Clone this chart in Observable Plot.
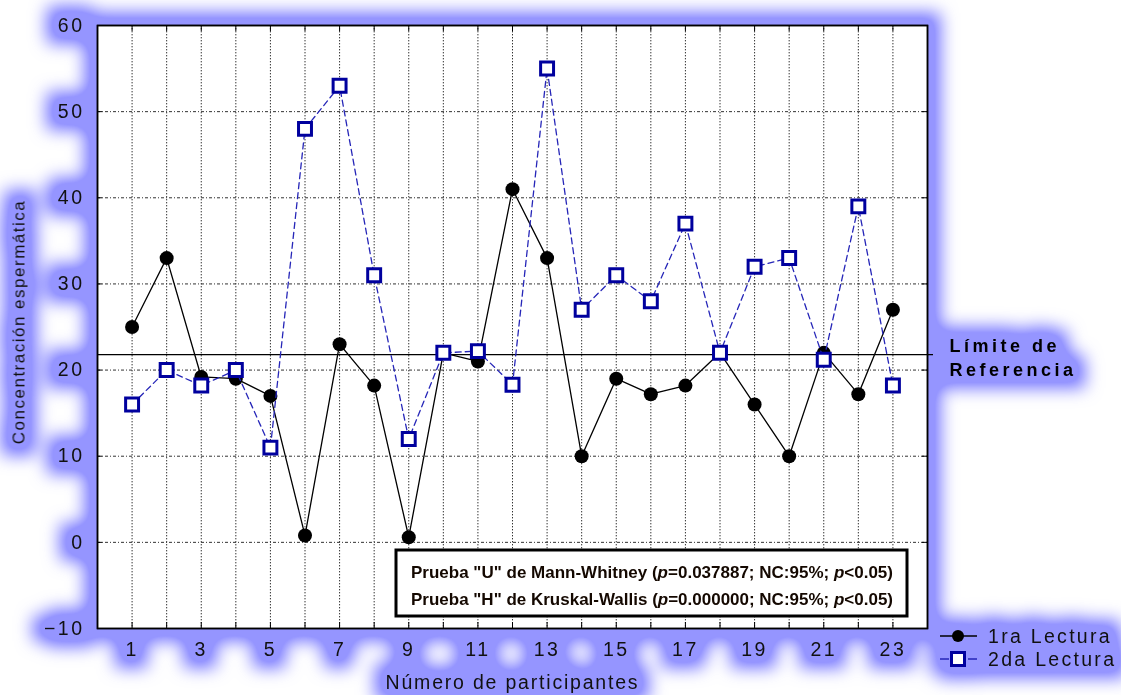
<!DOCTYPE html>
<html><head><meta charset="utf-8">
<script src="https://cdn.jsdelivr.net/npm/d3@7"></script>
<script src="https://cdn.jsdelivr.net/npm/@observablehq/plot@0.6"></script>
<style>
body{margin:0;background:#fff;}
#chart svg{display:block;overflow:visible;}
</style></head><body><div id="chart"></div>
<script>
// ---- data ----
const participantes = [1,2,3,4,5,6,7,8,9,10,11,12,13,14,15,16,17,18,19,20,21,22,23];
const lectura1 = [25, 33, 19.2, 19, 17, 0.8, 23, 18.2, 0.6, 22, 21, 41, 33, 10, 19, 17.2, 18.2, 22, 16, 10, 22, 17.2, 27];
const lectura2 = [16, 20, 18.2, 20, 11, 48, 53, 31, 12, 22, 22.2, 18.3, 55, 27, 31, 28, 37, 22, 32, 33, 21.2, 39, 18.2];
const xTicks = [1,3,5,7,9,11,13,15,17,19,21,23];
const yTicks = [-10,0,10,20,30,40,50,60];
const limiteReferencia = 21.8;
const seriesNames = ["1ra Lectura", "2da Lectura"];
const xTitle = "Número de participantes";
const yTitle = "Concentración espermática";
const refLabel = "Límite de\nReferencia";
const pruebas = [
  {nombre: 'Prueba "U" de Mann-Whitney', p: "0.037887"},
  {nombre: 'Prueba "H" de Kruskal-Wallis', p: "0.000000"}
];

const d1 = participantes.map((p, i) => ({p, v: lectura1[i]}));
const d2 = participantes.map((p, i) => ({p, v: lectura2[i]}));

const FONT = "'Liberation Sans', Arial, Helvetica, sans-serif";
const INK = "#111";
const NAVY = "#00009e";
const DASHBLUE = "#2626b8";
const GLOW = "#9595ff";

const plot = Plot.plot({
  width: 1121, height: 695,
  marginLeft: 97, marginRight: 194, marginTop: 25, marginBottom: 67,
  style: {fontFamily: FONT, color: INK, background: "transparent", overflow: "visible"},
  x: {domain: [0, 24], axis: null},
  y: {domain: [-10, 60], axis: null},
  marks: [
    Plot.frame({fill: "white", stroke: "black", strokeWidth: 1.5, ariaLabel: "glow-frame"}),
    // grid
    Plot.ruleX(participantes, {x: d => d, stroke: "#333", strokeWidth: 1, strokeDasharray: "1.4,1.6"}),
    Plot.ruleY(yTicks.slice(1, -1), {y: d => d, stroke: "#333", strokeWidth: 1, strokeDasharray: "3,2,1,2"}),
    // inward ticks
    Plot.ruleX(participantes, {x: d => d, stroke: "#000", insetBottom: 597}),
    Plot.ruleX(participantes, {x: d => d, stroke: "#000", insetTop: 597}),
    Plot.ruleY(yTicks, {y: d => d, stroke: "#000", insetRight: 825}),
    Plot.ruleY(yTicks, {y: d => d, stroke: "#000", insetLeft: 825}),
    // reference line
    Plot.ruleY([limiteReferencia], {stroke: "#000", strokeWidth: 1.3, insetRight: -6}),
    // series 1
    Plot.line(d1, {x: "p", y: "v", stroke: "#000", strokeWidth: 1.3}),
    Plot.dot(d1, {x: "p", y: "v", r: 7, fill: "#000", stroke: "none"}),
    // series 2
    Plot.line(d2, {x: "p", y: "v", stroke: DASHBLUE, strokeWidth: 1.3, strokeDasharray: "6,4"}),
    Plot.dot(d2, {x: "p", y: "v", symbol: "square", r: 7.3, fill: "white", stroke: NAVY, strokeWidth: 3}),
    Plot.frame({stroke: "black", strokeWidth: 1.5}),
    // axes
    Plot.axisX({ticks: xTicks, anchor: "bottom", tickSize: 0, tickPadding: 14, fontSize: 19.5, label: null}),
    Plot.axisY({ticks: yTicks, anchor: "left", tickSize: 0, tickPadding: 13, fontSize: 19.5, label: null}),
    // titles
    Plot.text([xTitle], {text: d => d, frameAnchor: "bottom", textAnchor: "middle", dy: 54, fontSize: 19.5, lineAnchor: "middle", fill: INK}),
    Plot.text([yTitle], {text: d => d, frameAnchor: "left", textAnchor: "middle", dx: -78, dy: -5, rotate: -90, fontSize: 17, lineAnchor: "middle", fill: INK}),
    // reference label
    Plot.text([limiteReferencia], {y: d => d, text: () => refLabel, frameAnchor: "right", dx: 22, dy: 2, textAnchor: "start", lineAnchor: "middle", lineHeight: 1.29, fontSize: 18, fontWeight: "bold", fill: "#000"})
  ]
});

document.getElementById("chart").appendChild(plot);
const svg = d3.select(plot);

const xAxisG = svg.selectAll('g[aria-label="x-axis tick label"]');
const yAxisG = svg.selectAll('g[aria-label="y-axis tick label"]');
const textGs = svg.selectAll('g[aria-label="text"]').nodes();
const [xTitleG, yTitleG, refG] = textGs;

// font tweaks
xAxisG.style("font-size", "19.5px").style("letter-spacing", "2.5px");
yAxisG.style("font-size", "19.5px").style("letter-spacing", "2.5px");
d3.select(xTitleG).style("letter-spacing", "1.8px");
d3.select(yTitleG).style("letter-spacing", "1.5px");
d3.select(refG).style("letter-spacing", "3.5px");

// ---- annotation box with statistical tests ----
const box = svg.append("g").attr("aria-label", "tests").attr("text-anchor", "start");
box.append("rect").attr("x", 396).attr("y", 550).attr("width", 511).attr("height", 66)
  .attr("fill", "white").attr("stroke", "#000").attr("stroke-width", 3);
pruebas.forEach((t, i) => {
  const tx = box.append("text").attr("x", 411).attr("y", 578 + i * 26.5)
    .attr("font-family", FONT).attr("font-size", 16.5).attr("font-weight", "bold").attr("fill", "#140800")
    .attr("text-anchor", "start")
    .attr("textLength", 482).attr("lengthAdjust", "spacingAndGlyphs");
  tx.append("tspan").text(t.nombre + " (");
  tx.append("tspan").attr("font-style", "italic").text("p");
  tx.append("tspan").text("=" + t.p + "; NC:95%; ");
  tx.append("tspan").attr("font-style", "italic").text("p");
  tx.append("tspan").text("<0.05)");
});

// ---- legend ----
const lg = svg.append("g").attr("aria-label", "legend").attr("text-anchor", "start");
const ly = [636, 659];
lg.append("line").attr("x1", 940).attr("x2", 977).attr("y1", ly[0]).attr("y2", ly[0]).attr("stroke", "#000").attr("stroke-width", 1.5);
lg.append("circle").attr("cx", 958).attr("cy", ly[0]).attr("r", 6).attr("fill", "#000");
lg.append("line").attr("x1", 940).attr("x2", 977).attr("y1", ly[1]).attr("y2", ly[1]).attr("stroke", DASHBLUE).attr("stroke-width", 1.5).attr("stroke-dasharray", "9,19");
lg.append("rect").attr("x", 951.5).attr("y", ly[1] - 6.5).attr("width", 13).attr("height", 13).attr("fill", "white").attr("stroke", NAVY).attr("stroke-width", 3);
seriesNames.forEach((n, i) => {
  lg.append("text").attr("x", 988).attr("y", ly[i] + 7).attr("font-family", FONT).attr("font-size", 19.5)
    .attr("text-anchor", "start").style("letter-spacing", "2.3px").attr("fill", INK).text(n);
});

// ---- glow layer (behind everything) ----
const defs = svg.insert("defs", ":first-child");
const f = defs.append("filter").attr("id", "glow").attr("filterUnits", "userSpaceOnUse")
  .attr("x", -50).attr("y", -50).attr("width", 1221).attr("height", 795);
f.append("feMorphology").attr("in", "SourceAlpha").attr("operator", "dilate").attr("radius", 12).attr("result", "d");
f.append("feGaussianBlur").attr("in", "d").attr("stdDeviation", 8.5).attr("result", "b");
f.append("feComponentTransfer").attr("in", "b").attr("result", "b2")
  .append("feFuncA").attr("type", "linear").attr("slope", 1.35).attr("intercept", 0);
f.append("feFlood").attr("flood-color", GLOW).attr("result", "c");
f.append("feComposite").attr("in", "c").attr("in2", "b2").attr("operator", "in");

const glowG = document.createElementNS("http://www.w3.org/2000/svg", "g");
glowG.setAttribute("filter", "url(#glow)");
const toGlow = [
  svg.select('[aria-label="glow-frame"]').node(),
  ...xAxisG.nodes(), ...yAxisG.nodes(), xTitleG, yTitleG, refG, lg.node()
].filter(Boolean);
toGlow.forEach(n => glowG.appendChild(n.cloneNode(true)));
plot.insertBefore(glowG, defs.node().nextSibling);
</script></body></html>
